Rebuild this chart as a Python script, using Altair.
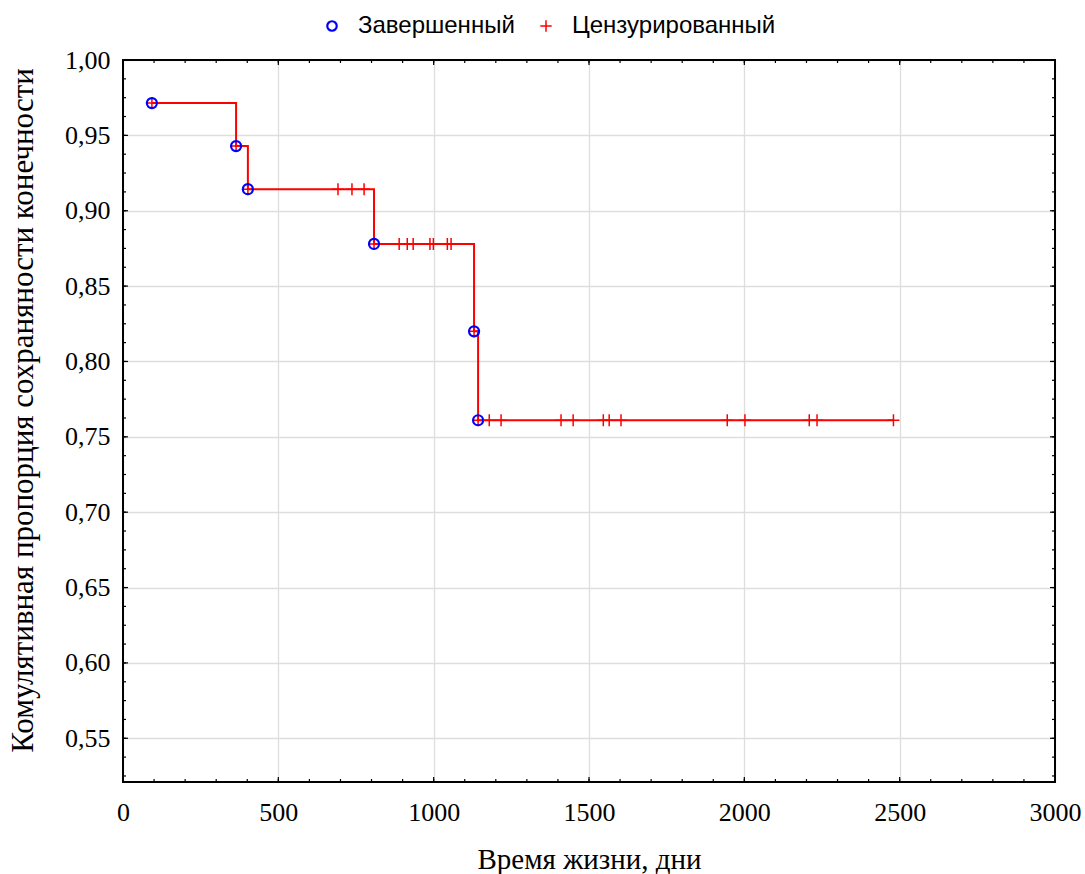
import altair as alt
import pandas as pd

# ---------------- data ----------------
event_days = [93, 364, 402, 808, 1130, 1143]
event_surv = [0.9714, 0.9429, 0.9143, 0.878, 0.820, 0.761]
censored_days = [692, 737, 776,
                 889, 915, 934, 988, 999, 1044, 1056,
                 1179, 1217, 1410, 1449, 1546, 1565, 1603, 1945, 2002, 2209, 2234, 2480]
series_labels = ["Завершенный", "Цензурированный"]
x_ticks = [0, 500, 1000, 1500, 2000, 2500, 3000]
y_ticks = [0.55, 0.60, 0.65, 0.70, 0.75, 0.80, 0.85, 0.90, 0.95, 1.00]
x_minor = list(range(0, 3001, 100))
y_minor = [round(0.525 + 0.0125 * i, 4) for i in range(39)]
X_TITLE = "Время жизни, дни"
Y_TITLE = "Комулятивная пропорция сохраняности конечности"

# ---------------- layout ----------------
W, H = 932, 722
X_DOMAIN = [0, 3000]
Y_DOMAIN = [0.521, 1.0]


def level_at(day):
    s = None
    for d, v in zip(event_days, event_surv):
        if d <= day:
            s = v
    return s


censored_surv = [level_at(d) for d in censored_days]

points = pd.DataFrame(
    {"day": event_days + censored_days,
     "surv": event_surv + censored_surv,
     "type": [series_labels[0]] * len(event_days) + [series_labels[1]] * len(censored_days)}
)
line_df = pd.DataFrame({"day": event_days + [censored_days[-1]],
                        "surv": event_surv + [censored_surv[-1]]})
event_df = pd.DataFrame({"day": event_days, "surv": event_surv})

xs = alt.Scale(domain=X_DOMAIN, nice=False, zero=False)
ys = alt.Scale(domain=Y_DOMAIN, nice=False, zero=False)

x_axis = alt.Axis(values=x_ticks, format="d", grid=True, ticks=False, domain=False,
                  labelFont="Liberation Serif", labelFontSize=26, labelColor="black",
                  labelPadding=17, titleFont="Liberation Serif", titleFontSize=29,
                  titleFontWeight="normal", titleColor="black",
                  titleBaseline="alphabetic", titleY=86, labelFlush=False,
                  gridColor="#dedede", gridWidth=1.3)
y_axis = alt.Axis(values=y_ticks, grid=True, ticks=False, domain=False,
                  labelExpr="replace(format(datum.value, '.2f'), '.', ',')",
                  labelFont="Liberation Serif", labelFontSize=26, labelColor="black",
                  labelPadding=13, titleFont="Liberation Serif", titleFontSize=31,
                  titleFontWeight="normal", titleColor="black",
                  titleBaseline="alphabetic", titleX=-91, titleY=350, titleAngle=-90,
                  titleAlign="center", labelFlush=False,
                  gridColor="#dedede", gridWidth=1.3)

X = alt.X("day:Q", scale=xs, axis=x_axis, title=X_TITLE)
Y = alt.Y("surv:Q", scale=ys, axis=y_axis, title=Y_TITLE)

PLUS = "M-1.2,0L1.2,0M0,-1.2L0,1.2"
SYM = 100

line = alt.Chart(line_df).mark_line(interpolate="step-after", color="#ff0000",
                                    strokeWidth=2).encode(x=X, y=Y)

event_plus = alt.Chart(event_df).mark_point(shape=PLUS, color="#ff0000", size=SYM,
                                            strokeWidth=1.5, filled=False, opacity=1).encode(x=X, y=Y)

pts = alt.Chart(points).mark_point(size=SYM, filled=False, opacity=1).encode(
    x=X, y=Y,
    color=alt.Color("type:N", scale=alt.Scale(domain=series_labels, range=["#0000ff", "#ff0000"]),
                    legend=alt.Legend(orient="none", legendX=197, legendY=-46,
                                      direction="horizontal", title=None,
                                      labelFont="Liberation Sans", labelFontSize=24,
                                      labelColor="black", symbolStrokeWidth=2,
                                      labelOffset=14, columnPadding=19, symbolSize=90,
                                      labelLimit=400, padding=0)),
    shape=alt.Shape("type:N", scale=alt.Scale(domain=series_labels, range=["circle", PLUS]),
                    legend=None),
    strokeWidth=alt.StrokeWidth("type:N", scale=alt.Scale(domain=series_labels, range=[2.2, 1.5]),
                                legend=None),
)


def xticks(vals, length, top):
    df = pd.DataFrame({"day": vals})
    yv, y2v = (0, length) if top else (H, H - length)
    return alt.Chart(df).mark_rule(color="black", strokeWidth=1.2).encode(
        x=X, y=alt.value(yv), y2=alt.value(y2v))


def yticks(vals, length, left):
    df = pd.DataFrame({"surv": vals})
    xv, x2v = (0, length) if left else (W, W - length)
    return alt.Chart(df).mark_rule(color="black", strokeWidth=1.2).encode(
        y=Y, x=alt.value(xv), x2=alt.value(x2v))


tick_layers = [
    xticks(x_minor, 3, False), xticks(x_ticks, 5, False),
    xticks(x_minor, 3, True), xticks(x_ticks, 5, True),
    yticks(y_minor, 3, True), yticks(y_ticks, 5, True),
    yticks(y_minor, 3, False), yticks(y_ticks, 5, False),
]

frame = alt.Chart(pd.DataFrame({"k": [0]})).mark_rect(
    fill=None, stroke="black", strokeWidth=2).encode(
    x=alt.value(0), x2=alt.value(W), y=alt.value(0), y2=alt.value(H))

chart = alt.layer(line, event_plus, pts, *tick_layers, frame).properties(
    width=W, height=H,
    padding={"left": 123, "top": 60, "right": 30, "bottom": 92},
    autosize=alt.AutoSizeParams(type="none"),
).configure_view(stroke=None).configure(background="white")

chart.save("out.html", embed_options={"renderer": "svg", "actions": False})
